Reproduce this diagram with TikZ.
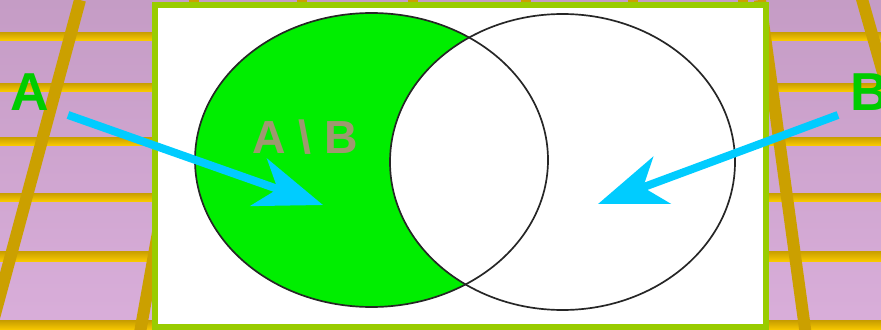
\documentclass[tikz,border=0pt]{standalone}
\usepackage{fontspec}
\setmainfont{Liberation Sans}
\usepackage{xcolor}
\definecolor{vennFloorTop}{HTML}{C59CC5}
\definecolor{vennFloorBot}{HTML}{D9AEDA}
\definecolor{vennBarDark}{HTML}{C89E00}
\definecolor{vennBarLight}{HTML}{F7C800}
\definecolor{vennBeam}{HTML}{CBA000}
\definecolor{vennFrame}{HTML}{99CC00}
\definecolor{vennFill}{HTML}{00EE00}
\definecolor{vennArrow}{HTML}{00CCFF}
\definecolor{vennLabel}{HTML}{00CC00}
\definecolor{vennDiff}{HTML}{9E9870}
\usetikzlibrary{arrows.meta}

\begin{document}
\begin{tikzpicture}[x=0.025cm, y=-0.025cm,
    beam/.style={vennBeam, line width=0.3cm},
    setline/.style={black!85, line width=1.2pt},
    setname/.style={vennLabel, inner sep=0pt, font=\fontsize{38}{38}\selectfont\bfseries},
    difflabel/.style={vennDiff, inner sep=0pt, font=\fontsize{33}{33}\selectfont\bfseries},
    pointer/.style={vennArrow, line width=0.2cm, -{Stealth[length=1.7cm, width=1.25cm, inset=0.5cm]}}]
  \useasboundingbox (0,0) rectangle (881,329);
  \clip (0,0) rectangle (881,329);
  \shade[top color=vennFloorTop, bottom color=vennFloorBot] (0,0) rectangle (881,329);
  \foreach \y/\h in {36/8, 87/8, 141/8, 197/8, 256/10, 325/9}
    \shade[top color=vennBarDark, bottom color=vennBarLight] (0,\y-\h/2) rectangle (881,\y+\h/2);
  \draw[beam] (80,0) -- (-12,340);
  \draw[beam] (180,110) -- (136,355);
  \draw[beam] (858,-15) -- (905,150);
  \draw[beam] (760,0) -- (810,365);
  \foreach \x in {194,302,413,526,633,743}
    \draw[beam, line width=0.25cm] (\x,-5) -- (\x,10);
  \draw[vennFrame, line width=0.15cm, fill=white] (155,5) rectangle (766,327);

  \fill[vennFill] (371.5,160) ellipse [x radius=176.5, y radius=147];
  \fill[white] (562.5,162) ellipse [x radius=172.5, y radius=148];
  \draw[setline] (371.5,160) ellipse [x radius=176.5, y radius=147];
  \draw[setline] (562.5,162) ellipse [x radius=172.5, y radius=148];

  \node[setname] (labA) at (30,92) {A};
  \node[setname] (labB) at (870,92) {B};
  \node[difflabel] (labDiff) at (305,137) {A \textbackslash{} B};

  \coordinate (tailA) at (68,115);
  \coordinate (headA) at (323,205);
  \coordinate (tailB) at (838,115);
  \coordinate (headB) at (598,204);
  \draw[pointer] (tailA) -- (headA);
  \draw[pointer] (tailB) -- (headB);
\end{tikzpicture}
\end{document}
